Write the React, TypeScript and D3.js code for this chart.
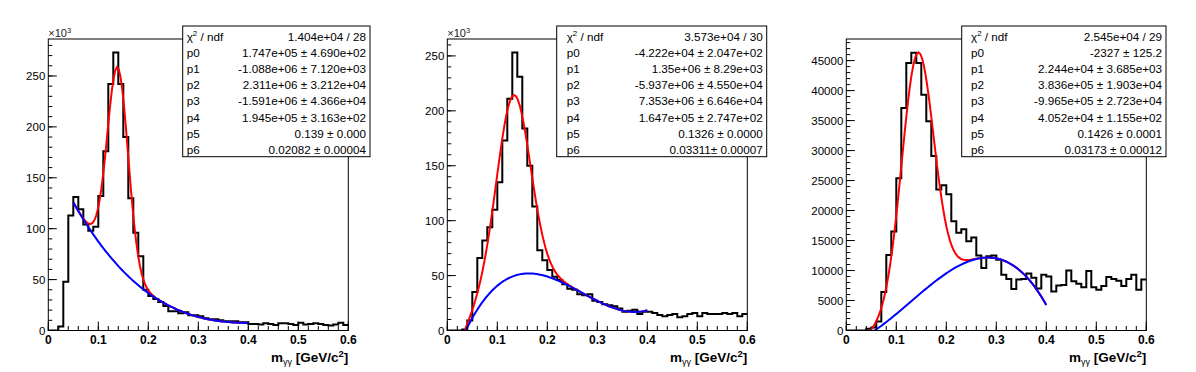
import * as d3 from "d3";

const W = 1196;
const H = 372;
const FONT = "'Liberation Sans', Arial, Helvetica, sans-serif";

// histogram: 60 bins of 0.01 GeV/c^2 between 0 and 0.6
const BIN_W = 0.01;
const X_MAX = 0.6;

// bin contents in units of 10^3 entries
const counts1 = [
  0, 0, 4, 48, 113, 131, 119, 104, 98, 102,
  132, 176, 242, 273, 242, 190, 130, 96, 73, 40,
  34, 31, 28, 24, 19, 19, 17, 18, 15, 15,
  14, 12, 11, 11, 10, 9, 9, 9, 8, 8,
  6.5, 6.5, 6, 7, 6.5, 5.5, 7, 7, 6.5, 5.5,
  7.5, 6, 6.5, 7, 6.5, 5.5, 5, 6, 7.5, 5.5,
];
const counts2 = [
  0, 0, 0, 1, 9, 35, 66, 82, 94, 110,
  135, 173, 211, 253, 231, 184, 150, 113, 73, 64,
  55, 49, 46, 42, 38, 37, 33, 32, 33, 27,
  26, 24, 23, 22, 20, 17, 18, 19, 15, 17,
  17, 16, 14, 13, 14, 15, 12, 13, 15, 16,
  13, 16, 15, 15, 15, 16, 15, 16, 13, 15,
];
const counts3 = [
  0, 0, 0, 0, 0.3, 0.5, 1.5, 6.4, 12.6, 16.5,
  25.4, 37.1, 44.6, 46.3, 44.6, 39.3, 34.9, 29.1, 23.5, 24.2,
  22.7, 18.2, 16.3, 16.9, 14.9, 15.5, 12.5, 10.4, 12.4, 12.5,
  11.8, 9.3, 8.6, 6.9, 8.5, 8.6, 9.5, 8.8, 7.0, 9.3,
  9.0, 6.5, 7.5, 7.6, 10.0, 8.2, 7.8, 7.2, 9.9, 7.2,
  6.8, 7.4, 8.9, 8.6, 8.3, 7.4, 8.6, 9.3, 6.8, 8.5,
];

// fit parameters from the stat boxes: pol3 (p0..p3) + gaus (p4 amp, p5 mean, p6 sigma)
const pars1 = [1.747e5, -1.088e6, 2.311e6, -1.591e6, 1.945e5, 0.139, 0.02082];
const pars2 = [-4.222e4, 1.35e6, -5.937e6, 7.353e6, 1.647e5, 0.1326, 0.03311];
const pars3 = [-2327, 2.244e4, 3.836e5, -9.965e5, 4.052e4, 0.1426, 0.03173];
const fitRange1 = [0.05, 0.4];
const fitRange2 = [0.03, 0.4];
const fitRange3 = [0.05, 0.4];

// y axis range (10^3 entries)
const yMax1 = 286.3;
const yMax2 = 265.4;
const yMax3 = 48.6;

const xTickLabels = ["0", "0.1", "0.2", "0.3", "0.4", "0.5", "0.6"];

const statLabels = ["χ2 / ndf", "p0", "p1", "p2", "p3", "p4", "p5", "p6"];
const statValues1 = [
  "1.404e+04 / 28",
  "1.747e+05 ± 4.690e+02",
  "-1.088e+06 ± 7.120e+03",
  "2.311e+06 ± 3.212e+04",
  "-1.591e+06 ± 4.366e+04",
  "1.945e+05 ± 3.163e+02",
  "0.139 ± 0.000",
  "0.02082 ± 0.00004",
];
const statValues2 = [
  "3.573e+04 / 30",
  "-4.222e+04 ± 2.047e+02",
  "1.35e+06 ± 8.29e+03",
  "-5.937e+06 ± 4.550e+04",
  "7.353e+06 ± 6.646e+04",
  "1.647e+05 ± 2.747e+02",
  "0.1326 ± 0.0000",
  "0.03311± 0.00007",
];
const statValues3 = [
  "2.545e+04 / 29",
  "-2327 ± 125.2",
  "2.244e+04 ± 3.685e+03",
  "3.836e+05 ± 1.903e+04",
  "-9.965e+05 ± 2.723e+04",
  "4.052e+04 ± 1.155e+02",
  "0.1426 ± 0.0001",
  "0.03173 ± 0.00012",
];

const panels = [
  {
    counts: counts1, pars: pars1, range: fitRange1, yMax: yMax1, major: 50, minor: 10,
    labelMul: 1, exponent: true, stats: statValues1,
    frameX: 48.3, box: [182.7, 370], labelPad: 4,
  },
  {
    counts: counts2, pars: pars2, range: fitRange2, yMax: yMax2, major: 50, minor: 10,
    labelMul: 1, exponent: true, stats: statValues2,
    frameX: 447.3, box: [556.7, 766.7], labelPad: 10,
  },
  {
    counts: counts3, pars: pars3, range: fitRange3, yMax: yMax3, major: 5, minor: 1,
    labelMul: 1000, exponent: false, stats: statValues3,
    frameX: 846.3, box: [961.7, 1166], labelPad: 9.3,
  },
];

const FRAME_W = 300;
const FRAME_TOP = 39;
const FRAME_BOTTOM = 330.5;

type PanelProps = (typeof panels)[number] & { idx: number };

function Panel(p: PanelProps) {
  const x = d3.scaleLinear().domain([0, X_MAX]).range([p.frameX, p.frameX + FRAME_W]);
  const y = d3.scaleLinear().domain([0, p.yMax]).range([FRAME_BOTTOM, FRAME_TOP]);

  const bg = (v: number) => p.pars[0] + p.pars[1] * v + p.pars[2] * v * v + p.pars[3] * v * v * v;
  const total = (v: number) =>
    bg(v) + p.pars[4] * Math.exp(-0.5 * ((v - p.pars[5]) / p.pars[6]) ** 2);

  // ROOT draws TF1 with 100 points over its range
  const xs = d3.range(101).map((i) => p.range[0] + ((p.range[1] - p.range[0]) * i) / 100);
  const curve = d3
    .line<number>()
    .x((v) => x(v))
    .y((v) => y(v));
  const redPath = d3
    .line<number>()
    .x((v) => x(v))
    .y((v) => y(total(v) / 1000))(xs)!;
  const bluePath = d3
    .line<number>()
    .x((v) => x(v))
    .y((v) => y(bg(v) / 1000))(xs)!;
  void curve;

  const histPts: [number, number][] = p.counts.map((c, i) => [i * BIN_W, c]);
  histPts.push([X_MAX, p.counts[p.counts.length - 1]]);
  const histPath = d3
    .line<[number, number]>()
    .x((d) => x(d[0]))
    .y((d) => y(d[1]))
    .curve(d3.curveStepAfter)(histPts)!;

  const yMajor = d3.range(0, p.yMax + 1e-9, p.major);
  const yMinor = d3.range(0, p.yMax + 1e-9, p.minor);
  const xMajor = d3.range(0, 7).map((i) => i * 0.1);
  const xMinor = d3.range(0, 31).map((i) => i * 0.02);

  const clipId = `frame-clip-${p.idx}`;
  const [bx1, bx2] = p.box;
  const rowY = (i: number) => 41 + i * 16.1;

  return (
    <g>
      <defs>
        <clipPath id={clipId}>
          <rect x={p.frameX} y={FRAME_TOP} width={FRAME_W} height={FRAME_BOTTOM - FRAME_TOP} />
        </clipPath>
      </defs>

      <g clipPath={`url(#${clipId})`}>
        <path d={histPath} fill="none" stroke="#000" strokeWidth={2} />
        <path d={redPath} fill="none" stroke="#ff0000" strokeWidth={2} />
        <path d={bluePath} fill="none" stroke="#0000ff" strokeWidth={2} />
      </g>

      <rect
        x={p.frameX}
        y={FRAME_TOP}
        width={FRAME_W}
        height={FRAME_BOTTOM - FRAME_TOP}
        fill="none"
        stroke="#000"
        strokeWidth={1}
      />

      {/* y axis ticks */}
      {yMinor.map((v, i) => (
        <line key={`ym${i}`} x1={p.frameX} x2={p.frameX + 4} y1={y(v)} y2={y(v)} stroke="#000" />
      ))}
      {yMajor.map((v, i) => (
        <line key={`yM${i}`} x1={p.frameX} x2={p.frameX + 8.5} y1={y(v)} y2={y(v)} stroke="#000" />
      ))}
      {yMajor.map((v, i) => (
        <text
          key={`yl${i}`}
          x={p.frameX - 3}
          y={y(v) + 4.2}
          textAnchor="end"
          fontFamily={FONT}
          fontSize={11.5}
        >
          {Math.round(v * p.labelMul)}
        </text>
      ))}

      {/* x axis ticks */}
      {xMinor.map((v, i) => (
        <line key={`xm${i}`} x1={x(v)} x2={x(v)} y1={FRAME_BOTTOM} y2={FRAME_BOTTOM - 4.5} stroke="#000" />
      ))}
      {xMajor.map((v, i) => (
        <line key={`xM${i}`} x1={x(v)} x2={x(v)} y1={FRAME_BOTTOM} y2={FRAME_BOTTOM - 9} stroke="#000" />
      ))}
      {xMajor.map((v, i) => (
        <text
          key={`xl${i}`}
          x={x(v)}
          y={343.5}
          textAnchor="middle"
          fontFamily={FONT}
          fontWeight="bold"
          fontSize={12}
        >
          {xTickLabels[i]}
        </text>
      ))}

      {/* axis title */}
      <text
        x={p.frameX + FRAME_W}
        y={362}
        textAnchor="end"
        fontFamily={FONT}
        fontWeight="bold"
        fontSize={13.5}
      >
        m
        <tspan fontSize={9} fontWeight="normal" dy={3}>
          γγ
        </tspan>
        <tspan dy={-3}> [GeV/c</tspan>
        <tspan fontSize={9.5} dy={-5}>
          2
        </tspan>
        <tspan dy={5}>]</tspan>
      </text>

      {p.exponent && (
        <text x={p.frameX} y={36.5} fontFamily={FONT} fontSize={11} fill="#222">
          ×10
          <tspan fontSize={7.5} dy={-4}>
            3
          </tspan>
        </text>
      )}

      {/* stat box */}
      <rect
        x={bx1}
        y={26}
        width={bx2 - bx1}
        height={130.7}
        fill="#fff"
        stroke="#000"
        strokeWidth={1}
      />
      {statLabels.map((lab, i) => (
        <text key={`sl${i}`} x={bx1 + p.labelPad} y={rowY(i)} fontFamily={FONT} fontSize={11.7}>
          {i === 0 ? (
            <>
              χ
              <tspan fontSize={8} dy={-5}>
                2
              </tspan>
              <tspan dy={5}> / ndf</tspan>
            </>
          ) : (
            lab
          )}
        </text>
      ))}
      {p.stats.map((val, i) => (
        <text
          key={`sv${i}`}
          x={bx2 - 4}
          y={rowY(i)}
          textAnchor="end"
          fontFamily={FONT}
          fontSize={11.7}
        >
          {val}
        </text>
      ))}
    </g>
  );
}

export default function App() {
  return (
    <svg
      width={W}
      height={H}
      viewBox={`0 0 ${W} ${H}`}
      style={{ position: "absolute", left: 0, top: 0, display: "block", background: "#fff" }}
    >
      <rect x={0} y={0} width={W} height={H} fill="#fff" />
      {panels.map((p, i) => (
        <Panel key={i} {...p} idx={i} />
      ))}
    </svg>
  );
}
